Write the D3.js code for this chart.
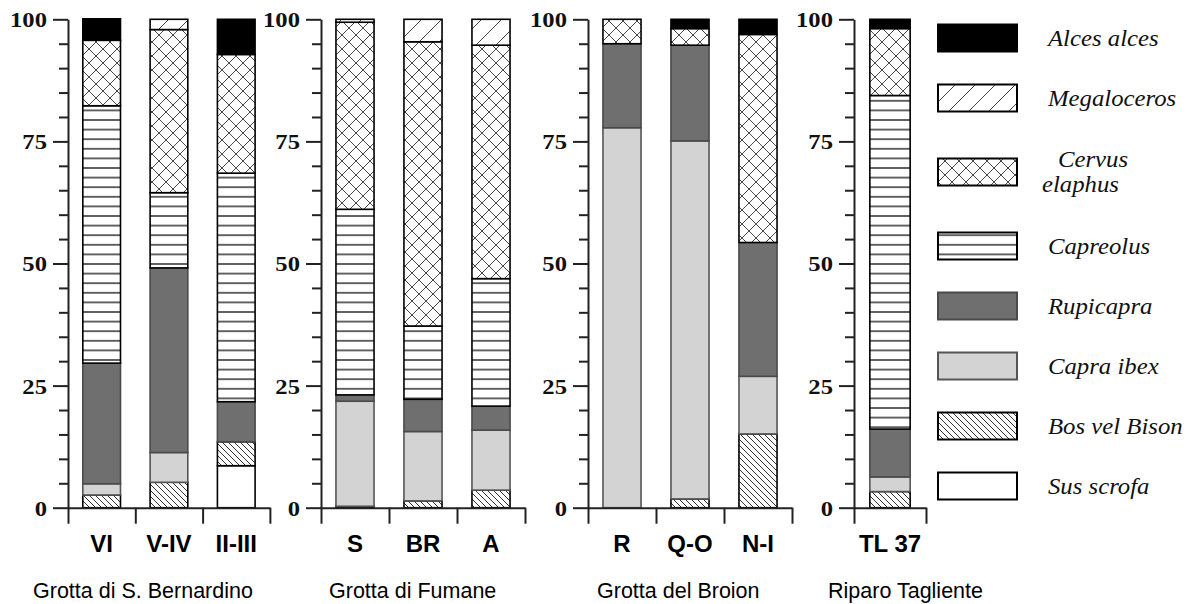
<!DOCTYPE html>
<html>
<head>
<meta charset="utf-8">
<script src="https://cdn.jsdelivr.net/npm/d3@7"></script>
<style>
    body { margin: 0; background: #fff; }
    .serif { font-family: "Liberation Serif", "DejaVu Serif", serif; }
    .sans { font-family: "Liberation Sans", Arial, sans-serif; }
</style>
</head>
<body>
<svg id="chart" width="1196" height="604"></svg>
<script>
// sites and their levels (left to right)
const sites = ["Grotta di S. Bernardino", "Grotta di Fumane", "Grotta del Broion", "Riparo Tagliente"];
const levels = [["VI", "V-IV", "II-III"], ["S", "BR", "A"], ["R", "Q-O", "N-I"], ["TL 37"]];

// stacked from bottom to top
const species = ["Sus scrofa", "Bos vel Bison", "Capra ibex", "Rupicapra", "Capreolus", "Cervus elaphus", "Megaloceros", "Alces alces"];

// % per level, same order as levels flattened
const susScrofa   = [0,    0,    8.6,  0,    0,    0,    0,    0,    0,    0];
const bosBison    = [2.6,  5.2,  4.9,  0.3,  1.4,  3.6,  0,    1.8,  15.1, 3.3];
const capraIbex   = [2.3,  6.1,  0,    21.5, 14.2, 12.3, 77.8, 73.3, 11.8, 3.0];
const rupicapra   = [24.7, 37.8, 8.2,  1.3,  6.6,  4.9,  17.2, 19.6, 27.4, 9.8];
const capreolus   = [52.7, 15.4, 46.8, 38.0, 15.0, 26.1, 0,    0,    0,    68.3];
const cervus      = [13.4, 33.4, 24.3, 38.3, 58.2, 47.8, 5.0,  3.4,  42.6, 13.7];
const megaloceros = [0,    2.1,  0,    0.6,  4.6,  5.3,  0,    0,    0,    0];
const alces       = [4.4,  0,    7.2,  0,    0,    0,    0,    1.9,  3.1,  1.9];

const yTicks = d3.range(0, 101, 5);

const seriesValues = [susScrofa, bosBison, capraIbex, rupicapra, capreolus, cervus, megaloceros, alces];

//build rows for d3.stack
let rows = [];
let k = 0;
levels.forEach((lv, p) => {
    lv.forEach(name => {
        let row = { level: name, panel: p };
        species.forEach((s, j) => { row[s] = seriesValues[j][k]; });
        rows.push(row);
        k++;
    });
});
const stacked = d3.stack().keys(species)(rows);

const svg = d3.select("#chart");
const defs = svg.append("defs");

function addPattern(id, w, h, d, color, lw) {
    let p = defs.append("pattern")
        .attr("id", id)
        .attr("patternUnits", "userSpaceOnUse")
        .attr("width", w)
        .attr("height", h);
    p.append("rect").attr("width", w).attr("height", h).attr("fill", "#fff");
    p.append("path").attr("d", d).attr("stroke", color).attr("stroke-width", lw).attr("fill", "none");
}
addPattern("pBos", 6, 6, "M0,0L6,6M-3,3L3,9M3,-3L9,3", "#333", 1);
addPattern("pCross", 14, 14, "M0,0L14,14M14,0L0,14", "#333", 0.9);
addPattern("pHoriz", 10, 9.6, "M0,4.8L10,4.8", "#111", 1.3);
addPattern("pMega", 20, 20, "M0,20L20,0M-5,5L5,-5M15,25L25,15", "#444", 1);

// fill / outline per species
const fills = ["#fff", "url(#pBos)", "#d3d3d3", "#6f6f6f", "url(#pHoriz)", "url(#pCross)", "url(#pMega)", "#000"];
const strokes = ["#000", "#000", "#555", "#4a4a4a", "#000", "#000", "#000", "#000"];

const yScale = d3.scaleLinear().domain([0, 100]).range([507.7, 19.3]);

// layout of the four panels
const panelX = [68, 321, 588, 854];
const bandW = [67.3, 68, 68, 72];
const titleX = [33, 329, 597, 828];

levels.forEach((lv, p) => {
    const width = lv.length * bandW[p];
    let g = svg.append("g").attr("transform", "translate(" + panelX[p] + ",0)");

    let xScale = d3.scaleBand()
        .domain(lv)
        .range([0, width])
        .paddingInner(0.44)
        .paddingOuter(0.22);

    // bars
    stacked.forEach((serie, j) => {
        g.selectAll(null)
            .data(serie.filter(d => d.data.panel === p && d[1] - d[0] > 0))
            .enter().append("rect")
            .attr("x", d => xScale(d.data.level))
            .attr("width", xScale.bandwidth())
            .attr("y", d => yScale(d[1]))
            .attr("height", d => yScale(d[0]) - yScale(d[1]))
            .attr("fill", fills[j])
            .attr("stroke", strokes[j])
            .attr("stroke-width", 1.6);
    });

    // y axis, major ticks every 25 and minor every 5
    let yAxis = g.append("g")
        .call(d3.axisLeft(yScale)
            .tickValues(yTicks)
            .tickSize(15)
            .tickSizeOuter(0)
            .tickFormat(d => d % 25 === 0 ? d : ""));
    yAxis.attr("font-family", null);
    yAxis.select(".domain").attr("stroke", "#222").attr("stroke-width", 2);
    yAxis.selectAll(".tick line")
        .attr("stroke", "#222")
        .attr("stroke-width", 2)
        .attr("x2", d => d % 25 === 0 ? -15 : -9);
    yAxis.selectAll(".tick text")
        .attr("class", "serif")
        .attr("x", -21 / 1.12)
        .attr("dy", "0.34em")
        .attr("transform", "scale(1.12,1)")
        .attr("fill", "#111")
        .attr("font-weight", "bold")
        .attr("font-size", "22px");

    // x axis with ticks at band boundaries
    let xl = d3.scaleLinear().domain([0, lv.length]).range([0, width]);
    let xAxis = g.append("g")
        .attr("transform", "translate(0," + yScale(0) + ")")
        .call(d3.axisBottom(xl)
            .tickValues(d3.range(lv.length + 1))
            .tickFormat("")
            .tickSize(16)
            .tickSizeOuter(0));
    xAxis.select(".domain").attr("stroke", "#222").attr("stroke-width", 2);
    xAxis.selectAll(".tick line").attr("stroke", "#222").attr("stroke-width", 2);

    // level names
    g.selectAll(null)
        .data(lv)
        .enter().append("text")
        .attr("class", "sans")
        .attr("x", d => xScale(d) + xScale.bandwidth() / 2)
        .attr("y", 552)
        .attr("text-anchor", "middle")
        .attr("font-weight", "bold")
        .attr("font-size", "24px")
        .text(d => d);
});

// site names
svg.selectAll(null)
    .data(sites)
    .enter().append("text")
    .attr("class", "sans")
    .attr("x", (d, i) => titleX[i])
    .attr("y", 598)
    .attr("font-size", "21.5px")
    .text(d => d);

// legend, top to bottom = reverse of stack order
const legendOrder = species.slice().reverse();
function rowCenter(i) {
    //the two line entry needs some extra space
    return 38 + i * 60 + (i >= 2 ? 14 : 0) + (i >= 3 ? 14 : 0);
}
let legend = svg.append("g");
legendOrder.forEach((s, i) => {
    const j = species.indexOf(s);
    const cy = rowCenter(i);
    legend.append("rect")
        .attr("x", 938)
        .attr("y", cy - 13.5)
        .attr("width", 79)
        .attr("height", 27)
        .attr("fill", fills[j])
        .attr("stroke", strokes[j])
        .attr("stroke-width", 2);
    let lines = s === "Cervus elaphus" ? [["Cervus", 1058, cy - 5], ["elaphus", 1042, cy + 20]] : [[s, 1048, cy + 8]];
    lines.forEach(l => {
        legend.append("text")
            .attr("class", "serif")
            .attr("transform", "translate(" + l[1] + "," + l[2] + ") scale(1.1,1)")
            .attr("font-style", "italic")
            .attr("font-size", "22.5px")
            .attr("fill", "#111")
            .text(l[0]);
    });
});
</script>
</body>
</html>
